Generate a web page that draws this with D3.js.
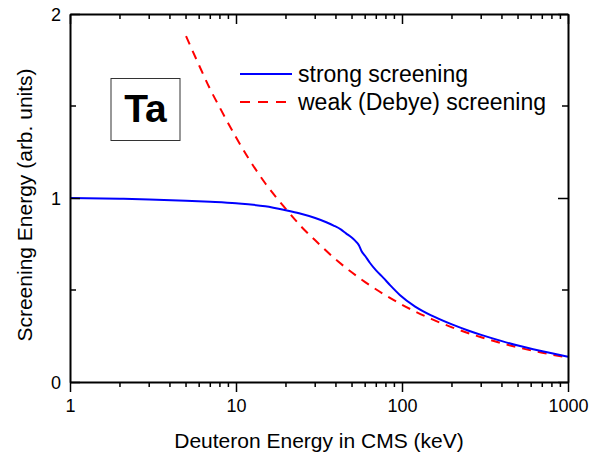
<!DOCTYPE html>
<html>
<head>
<meta charset="utf-8">
<script src="https://cdn.jsdelivr.net/npm/d3@7"></script>
<style>
  html, body { margin: 0; padding: 0; background: #fff; }
  svg { display: block; }
  text { font-family: "Liberation Sans", Arial, sans-serif; fill: #000; }
</style>
</head>
<body>
<svg id="chart" width="598" height="453"></svg>
<script>
// ---- data ----
const strongE = [1, 2, 3, 5, 7, 10, 15, 20, 24, 30, 35, 39, 43, 46, 50, 53, 55, 57, 60, 64, 70, 77, 85, 97, 120, 150, 200, 250, 300, 400, 500, 700, 1000];
const strongV = [1.0, 0.996, 0.992, 0.985, 0.979, 0.971, 0.955, 0.933, 0.917, 0.891, 0.868, 0.849, 0.828, 0.808, 0.784, 0.762, 0.743, 0.712, 0.685, 0.648, 0.605, 0.567, 0.525, 0.473, 0.41, 0.362, 0.313, 0.28, 0.256, 0.222, 0.198, 0.167, 0.137];
const weakE = [5, 6, 7, 8, 10, 12, 15, 20, 25, 30, 40, 50, 60, 80, 100, 150, 200, 300, 400, 500, 700, 1000];
const weakV = [1.88, 1.72, 1.59, 1.49, 1.33, 1.21, 1.08, 0.94, 0.84, 0.77, 0.665, 0.595, 0.543, 0.47, 0.42, 0.343, 0.297, 0.243, 0.21, 0.188, 0.159, 0.133];
const xMajorTicks = [1, 10, 100, 1000];
const xTickLabels = ["1", "10", "100", "1000"];
const yMajorTicks = [0, 1, 2];
const yTickLabels = ["0", "1", "2"];
const yMinorTicks = [0.5, 1.5];
const seriesNames = ["strong screening", "weak (Debye) screening"];
const xTitle = "Deuteron Energy in CMS (keV)";
const yTitle = "Screening Energy (arb. units)";
const annotation = "Ta";

// ---- layout ----
const L = 70, R = 568, T = 14, B = 382;
const svg = d3.select("#chart");
const x = d3.scaleLog().domain([1, 1000]).range([L, R]);
const y = d3.scaleLinear().domain([0, 2]).range([B, T]);

const xMinorTicks = [];
for (let d = 1; d < 1000; d *= 10) for (let k = 2; k <= 9; k++) xMinorTicks.push(d * k);

// ---- curves ----
const line = d3.line().x(d => x(d[0])).y(d => y(d[1])).curve(d3.curveMonotoneX);
svg.append("path")
  .datum(weakE.map((e, i) => [e, weakV[i]]))
  .attr("d", line).attr("fill", "none").attr("stroke", "#ff0000")
  .attr("stroke-width", 2).attr("stroke-dasharray", "9,7");
svg.append("path")
  .datum(strongE.map((e, i) => [e, strongV[i]]))
  .attr("d", line).attr("fill", "none").attr("stroke", "#0000ff")
  .attr("stroke-width", 2);

// ---- axes ----
const gBottom = svg.append("g").attr("transform", `translate(0,${B})`)
  .call(d3.axisBottom(x).tickValues(xMajorTicks).tickFormat((d, i) => xTickLabels[i]).tickSize(10).tickSizeOuter(0));
gBottom.append("g").selectAll("line").data(xMinorTicks).join("line")
  .attr("x1", d => x(d)).attr("x2", d => x(d)).attr("y1", 0).attr("y2", 5).attr("stroke", "#000").attr("stroke-width", 1.5);
const gTop = svg.append("g").attr("transform", `translate(0,${T})`)
  .call(d3.axisBottom(x).tickValues(xMajorTicks).tickFormat("").tickSize(10).tickSizeOuter(0));
gTop.append("g").selectAll("line").data(xMinorTicks).join("line")
  .attr("x1", d => x(d)).attr("x2", d => x(d)).attr("y1", 0).attr("y2", 5).attr("stroke", "#000").attr("stroke-width", 1.5);
const gLeft = svg.append("g").attr("transform", `translate(${L},0)`)
  .call(d3.axisRight(y).tickValues(yMajorTicks).tickFormat("").tickSize(10).tickSizeOuter(0));
gLeft.append("g").selectAll("line").data(yMinorTicks).join("line")
  .attr("x1", 0).attr("x2", 6).attr("y1", d => y(d)).attr("y2", d => y(d)).attr("stroke", "#000").attr("stroke-width", 1.5);
const gRight = svg.append("g").attr("transform", `translate(${R},0)`)
  .call(d3.axisLeft(y).tickValues(yMajorTicks).tickFormat("").tickSize(10).tickSizeOuter(0));
gRight.append("g").selectAll("line").data(yMinorTicks).join("line")
  .attr("x1", 0).attr("x2", -6).attr("y1", d => y(d)).attr("y2", d => y(d)).attr("stroke", "#000").attr("stroke-width", 1.5);

[gBottom, gTop, gLeft, gRight].forEach(g => {
  g.select(".domain").attr("stroke", "#000").attr("stroke-width", 2);
  g.selectAll(".tick line").attr("stroke", "#000").attr("stroke-width", 1.5);
});
gBottom.selectAll(".tick text")
  .attr("y", 30).attr("dy", 0)
  .style("font-size", "18px").style("font-family", "'Liberation Sans', Arial, sans-serif").attr("fill", "#000");

// y tick labels
svg.append("g").selectAll("text").data(yMajorTicks).join("text")
  .attr("x", 61).attr("y", d => y(d) + 6.5).attr("text-anchor", "end")
  .style("font-size", "18px").text((d, i) => yTickLabels[i]);

// titles
svg.append("text").attr("x", 319).attr("y", 448).attr("text-anchor", "middle")
  .style("font-size", "21px").text(xTitle);
svg.append("text").attr("transform", "translate(32,205) rotate(-90)").attr("text-anchor", "middle")
  .style("font-size", "21px").text(yTitle);

// annotation box
svg.append("rect").attr("x", 111).attr("y", 78.5).attr("width", 69).attr("height", 62)
  .attr("fill", "none").attr("stroke", "#333").attr("stroke-width", 1);
svg.append("text").attr("x", 145.5).attr("y", 122).attr("text-anchor", "middle")
  .style("font-size", "39px").style("font-weight", "bold").text(annotation);

// legend
const lg = svg.append("g");
lg.append("line").attr("x1", 240).attr("x2", 292).attr("y1", 74).attr("y2", 74)
  .attr("stroke", "#0000ff").attr("stroke-width", 2);
lg.append("line").attr("x1", 240).attr("x2", 292).attr("y1", 102).attr("y2", 102)
  .attr("stroke", "#ff0000").attr("stroke-width", 2).attr("stroke-dasharray", "10,8");
lg.append("text").attr("x", 298).attr("y", 82).style("font-size", "23px").text(seriesNames[0]);
lg.append("text").attr("x", 298).attr("y", 110).style("font-size", "23px").text(seriesNames[1]);
</script>
</body>
</html>
